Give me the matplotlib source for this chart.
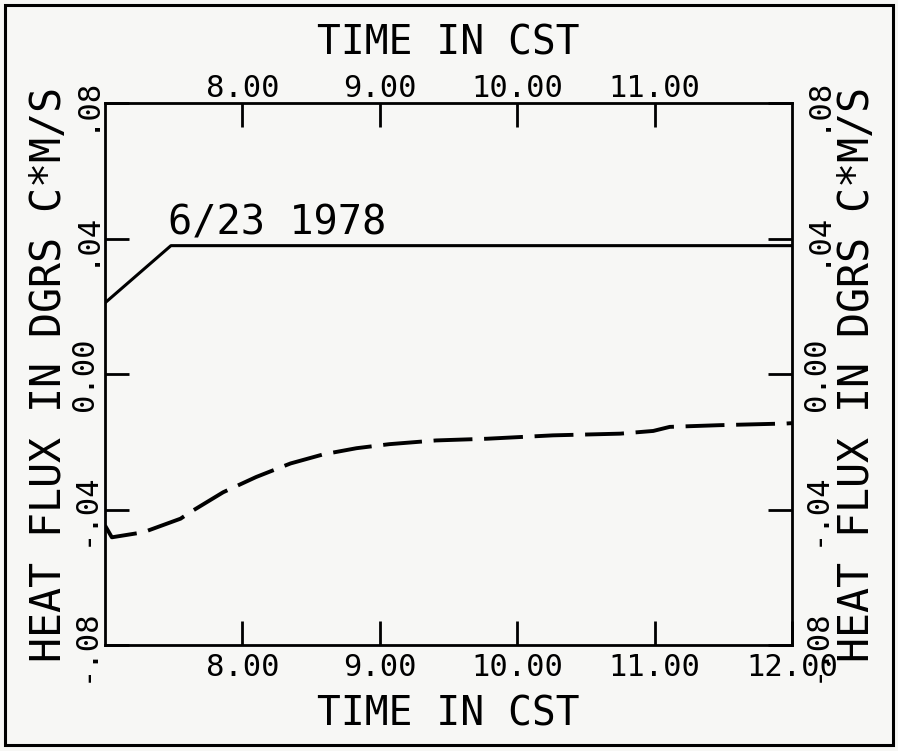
import matplotlib
matplotlib.use("Agg")
import matplotlib.pyplot as plt
from matplotlib.patches import Rectangle

# Time axis (hours, CST) and heat flux values (deg C * m/s)
solid_time = [7.0, 7.48, 12.0]
solid_flux = [0.021, 0.0379, 0.0379]

dashed_time = [7.0, 7.05, 7.28, 7.55, 7.62, 7.86, 8.10, 8.35, 8.59, 8.83, 9.07,
               9.41, 9.78, 10.26, 10.75, 10.99, 11.11, 11.47, 11.96, 12.0]
dashed_flux = [-0.0447, -0.0482, -0.0467, -0.0427, -0.0408, -0.0349, -0.0304,
               -0.0264, -0.0237, -0.0219, -0.0207, -0.0196, -0.0191, -0.0181,
               -0.0176, -0.0168, -0.0156, -0.0151, -0.0146, -0.0145]

bottom_ticks = [8.0, 9.0, 10.0, 11.0, 12.0]
bottom_labels = ["8.00", "9.00", "10.00", "11.00", "12.00"]
top_ticks = [8.0, 9.0, 10.0, 11.0]
top_labels = ["8.00", "9.00", "10.00", "11.00"]
y_ticks = [-0.08, -0.04, 0.0, 0.04, 0.08]
y_labels = ["-.08", "-.04", "0.00", ".04", ".08"]

date_label = "6/23 1978"
x_title = "TIME IN CST"
y_title = "HEAT FLUX IN DGRS C*M/S"

FONT = "DejaVu Sans Mono"
plt.rcParams["font.family"] = FONT
plt.rcParams["axes.unicode_minus"] = False

fig = plt.figure(figsize=(8.98, 7.51), dpi=100)
fig.patch.set_facecolor("#f7f7f5")

# outer border around the whole sheet
fig.patches.append(Rectangle((0.006, 0.008), 0.988, 0.985, transform=fig.transFigure,
                             fill=False, edgecolor="black", linewidth=2.2))

ax = fig.add_axes([0.1169, 0.1411, 0.7651, 0.7217])
ax.set_facecolor("#f7f7f5")
for sp in ax.spines.values():
    sp.set_linewidth(2.0)

ax.plot(solid_time, solid_flux, color="black", linewidth=2.2, solid_capstyle="butt")
ax.plot(dashed_time, dashed_flux, color="black", linewidth=2.8,
        linestyle=(0, (10, 3)), dash_capstyle="butt")
ax.text(7.46, 0.0385, date_label, fontsize=29, ha="left", va="bottom")

ax.set_xlim(7.0, 12.0)
ax.set_ylim(-0.08, 0.08)

tick_kw = dict(direction="in", length=17, width=2.0, labelsize=22)

ax.set_xticks(bottom_ticks)
ax.set_xticklabels(bottom_labels)
ax.tick_params(axis="x", pad=6, **tick_kw)
ax.set_xlabel(x_title, fontsize=28.5, labelpad=9)

ax.set_yticks(y_ticks)
ax.set_yticklabels(y_labels, rotation=90, va="center")
ax.tick_params(axis="y", pad=4, **tick_kw)
ax.set_ylabel(y_title, fontsize=30, labelpad=0)

top = ax.secondary_xaxis("top")
top.set_xticks(top_ticks)
top.set_xticklabels(top_labels)
top.tick_params(axis="x", pad=0, **tick_kw)
top.set_xlabel(x_title, fontsize=28.5, labelpad=14)

right = ax.secondary_yaxis("right")
right.set_yticks(y_ticks)
right.set_yticklabels(y_labels, rotation=90, va="center")
right.tick_params(axis="y", pad=7, **tick_kw)
right.set_ylabel(y_title, fontsize=30, rotation=90, labelpad=4)

fig.savefig("out.png", dpi=100, facecolor=fig.get_facecolor())
